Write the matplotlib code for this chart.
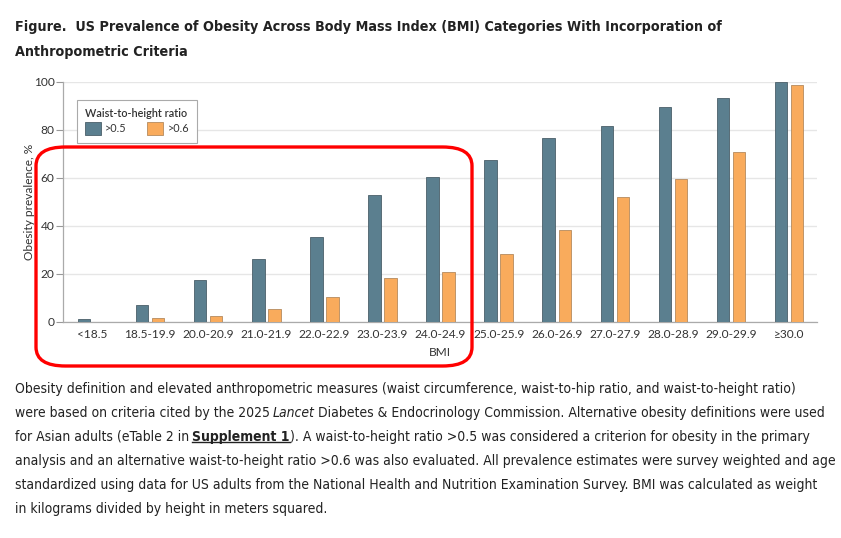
import matplotlib
matplotlib.use("Agg")
import matplotlib.pyplot as plt
import numpy as np
from matplotlib.patches import FancyBboxPatch
from matplotlib.lines import Line2D
from matplotlib.text import Annotation

categories = ["<18.5", "18.5-19.9", "20.0-20.9", "21.0-21.9", "22.0-22.9", "23.0-23.9",
              "24.0-24.9", "25.0-25.9", "26.0-26.9", "27.0-27.9", "28.0-28.9", "29.0-29.9", "≥30.0"]
whtr_05 = [1.3, 7.1, 17.2, 26.0, 35.4, 52.8, 60.1, 67.4, 76.4, 81.7, 89.3, 93.3, 100.0]
whtr_06 = [0.0, 1.5, 2.5, 5.1, 10.1, 18.1, 20.8, 28.3, 38.2, 51.9, 59.3, 70.8, 98.8]
yticks = [0, 20, 40, 60, 80, 100]

blue = "#5b7f8f"
orange = "#f9ab5c"
chart_font = ["Lato", "DejaVu Sans"]
text_font = ["DejaVu Sans"]

px = 1/100
fig = plt.figure(figsize=(841*px, 538*px), dpi=100)
ax = fig.add_axes([63/841, (538-321.7)/538, 754/841, 240/538])

x = np.arange(len(categories))
w = 0.215
off = 0.138
ax.bar(x - off, whtr_05, w, color=blue, edgecolor="#4a5f69", linewidth=0.6, label=">0.5", zorder=3)
ax.bar(x + off, whtr_06, w, color=orange, edgecolor="#b58a5e", linewidth=0.6, label=">0.6", zorder=3)

ax.set_xlim(-0.5, 12.48)
ax.set_ylim(0, 100)
ax.set_yticks(yticks)
ax.set_xticks(x)
ax.set_xticklabels(categories, family=chart_font, fontsize=8.6, color="#333333")
ax.set_yticklabels([str(t) for t in yticks], family=chart_font, fontsize=8.6, color="#333333")
ax.tick_params(axis="x", length=0, pad=5)
ax.tick_params(axis="y", length=5, width=0.8, color="#999999", pad=1)
ax.grid(axis="y", color="#e6e6e6", linewidth=1, zorder=0)
ax.set_axisbelow(True)
for s in ["top", "right"]:
    ax.spines[s].set_visible(False)
for s in ["left", "bottom"]:
    ax.spines[s].set_color("#aaaaaa")
    ax.spines[s].set_linewidth(0.9)
ax.set_xlabel("BMI", family=chart_font, fontsize=8.6, color="#333333", labelpad=5)
ax.set_ylabel("Obesity prevalence, %", family=chart_font, fontsize=8.6, color="#333333", labelpad=-1)

leg = ax.legend(title="Waist-to-height ratio", loc="upper left", bbox_to_anchor=(14/754, 1-18/240),
                borderaxespad=0, ncol=2, frameon=True, fancybox=False, edgecolor="#aaaaaa",
                framealpha=1, prop={"family": chart_font, "size": 7.8}, handlelength=1.45,
                handleheight=1.45, columnspacing=1.9, handletextpad=0.4, borderpad=0.75,
                labelspacing=0.3)
leg.get_title().set_fontfamily(chart_font)
leg.get_title().set_fontsize(7.8)
leg.get_title().set_fontweight("semibold")
leg.get_title().set_color("#333333")
leg._legend_box.align = "left"
leg.get_frame().set_linewidth(0.8)
for t in leg.get_texts():
    t.set_color("#333333")

# title
for k, line in enumerate(["Figure.  US Prevalence of Obesity Across Body Mass Index (BMI) Categories With Incorporation of",
                          "Anthropometric Criteria"]):
    fig.text(15/841, 1-(27 + 25*k)/538, line, family=text_font, fontsize=10.3, weight="bold",
             stretch="condensed", color="#222222", va="center")

# caption
cap_size = 10.0
lines = [
    [("Obesity definition and elevated anthropometric measures (waist circumference, waist-to-hip ratio, and waist-to-height ratio)", "normal", "normal")],
    [("were based on criteria cited by the 2025", "normal", "normal"), ("Lancet", "italic", "normal"),
     ("Diabetes & Endocrinology Commission. Alternative obesity definitions were used", "normal", "normal")],
    [("for Asian adults (eTable 2 in", "normal", "normal"), ("Supplement 1", "normal", "bold"),
     ("). A waist-to-height ratio >0.5 was considered a criterion for obesity in the primary", "normal", "normal")],
    [("analysis and an alternative waist-to-height ratio >0.6 was also evaluated. All prevalence estimates were survey weighted and age", "normal", "normal")],
    [("standardized using data for US adults from the National Health and Nutrition Examination Survey. BMI was calculated as weight", "normal", "normal")],
    [("in kilograms divided by height in meters squared.", "normal", "normal")],
]
underline = None
for i, segs in enumerate(lines):
    y = 1 - (389 + 24*i)/538
    prev = None
    for s, style, weight in segs:
        if prev is None:
            t = fig.text(15/841, y, s, family=text_font, fontsize=cap_size, style=style,
                         weight=weight, stretch="condensed", color="#222222", va="center")
        else:
            gap = 0 if s.startswith(")") else cap_size*0.22
            t = fig.add_artist(Annotation(s, xy=(1, 0), xycoords=prev, xytext=(gap, 0),
                                          textcoords="offset points", family=text_font,
                                          fontsize=cap_size, style=style, weight=weight,
                                          stretch="condensed", color="#222222",
                                          va="bottom", ha="left"))
        if s == "Supplement 1":
            underline = t
        prev = t

fig.canvas.draw()
if underline is not None:
    bb = underline.get_window_extent()
    fig.add_artist(Line2D([bb.x0, bb.x1], [bb.y0 + 2.5, bb.y0 + 2.5], transform=None,
                          color="#222222", linewidth=1.0))

# red highlight box
fig.add_artist(FancyBboxPatch((36/841, 1-366/538), (472-36)/841, (366-147)/538,
                              boxstyle="round,pad=0,rounding_size=0.035", transform=fig.transFigure,
                              fill=False, edgecolor="#ff0000", linewidth=2.4, zorder=10))

fig.savefig("out.png", dpi=100)
